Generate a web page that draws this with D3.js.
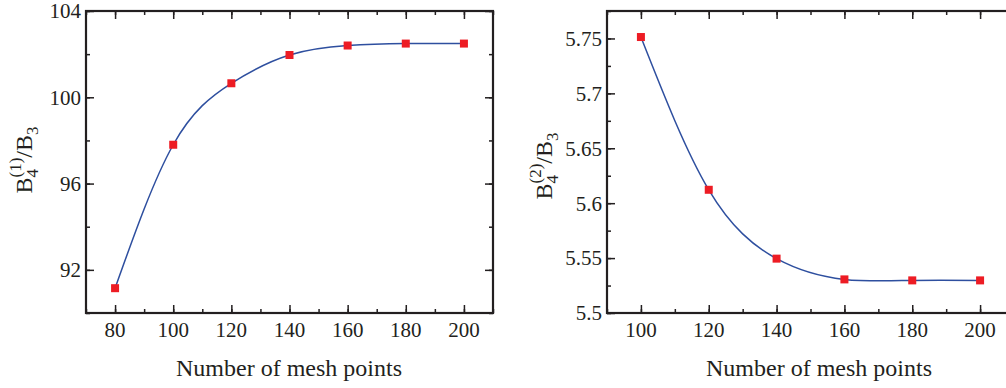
<!DOCTYPE html>
<html>
<head>
<meta charset="utf-8">
<script src="https://cdn.jsdelivr.net/npm/d3@7"></script>
<style>
  body { margin: 0; background: #fff; }
  svg { display: block; }
  text { font-family: "Liberation Serif", "Times New Roman", serif; fill: #231f20; }
</style>
</head>
<body>
<script>
// mesh sizes and ratios
var meshLeft = [80, 100, 120, 140, 160, 180, 200];
var ratioLeft = [91.15, 97.8, 100.65, 101.96, 102.4, 102.49, 102.49];
var meshRight = [100, 120, 140, 160, 180, 200];
var ratioRight = [5.7513, 5.6122, 5.5495, 5.5306, 5.5297, 5.5297];

var xTicksLeft = [80, 100, 120, 140, 160, 180, 200];
var xTicksRight = [100, 120, 140, 160, 180, 200];
var yTicksLeft = [92, 96, 100, 104];
var yTicksRight = [5.5, 5.55, 5.6, 5.65, 5.7, 5.75];

var svg = d3.select("body").append("svg")
			.attr("width", 1006)
			.attr("height", 388);

function drawPanel(p) {
	var x = d3.scaleLinear().domain(p.xDomain).range([p.left, p.right]);
	var y = d3.scaleLinear().domain(p.yDomain).range([p.bottom, p.top]);
	var g = svg.append("g");

	var xMinor = d3.range(p.xDomain[0], p.xDomain[1] + 0.001, 10);
	var yMinor = d3.range(p.yDomain[0], p.yDomain[1] + 1e-9, p.yMinorStep);

	// bottom axis, ticks pointing in
	g.append("g")
		.attr("transform", "translate(0," + p.bottom + ")")
		.call(d3.axisTop(x).tickValues(xMinor).tickSize(4).tickFormat(""));
	g.append("g")
		.attr("transform", "translate(0," + p.bottom + ")")
		.call(d3.axisTop(x).tickValues(p.xTicks).tickSize(8).tickFormat(""));
	g.append("g").selectAll("text")
		.data(p.xTicks)
		.enter().append("text")
			.attr("x", function(d){ return x(d); })
			.attr("y", p.bottom + 24)
			.attr("text-anchor", "middle")
			.attr("font-size", 21)
			.text(function(d){ return d; });

	// top axis mirror
	g.append("g")
		.attr("transform", "translate(0," + p.top + ")")
		.call(d3.axisBottom(x).tickValues(xMinor).tickSize(4).tickFormat(""));
	g.append("g")
		.attr("transform", "translate(0," + p.top + ")")
		.call(d3.axisBottom(x).tickValues(p.xTicks).tickSize(8).tickFormat(""));

	// left axis
	g.append("g")
		.attr("transform", "translate(" + p.left + ",0)")
		.call(d3.axisRight(y).tickValues(yMinor).tickSize(4).tickFormat(""));
	g.append("g")
		.attr("transform", "translate(" + p.left + ",0)")
		.call(d3.axisRight(y).tickValues(p.yTicks).tickSize(8).tickFormat(""));
	g.append("g").selectAll("text")
		.data(p.yTicks)
		.enter().append("text")
			.attr("x", p.left - 5)
			.attr("y", function(d){ return y(d); })
			.attr("dy", "0.35em")
			.attr("text-anchor", "end")
			.attr("font-size", 21)
			.text(function(d){ return +d.toFixed(2); });

	// right axis mirror
	g.append("g")
		.attr("transform", "translate(" + p.right + ",0)")
		.call(d3.axisLeft(y).tickValues(yMinor).tickSize(4).tickFormat(""));
	g.append("g")
		.attr("transform", "translate(" + p.right + ",0)")
		.call(d3.axisLeft(y).tickValues(p.yTicks).tickSize(8).tickFormat(""));

	g.selectAll(".domain").remove();
	g.selectAll(".tick line").attr("stroke", "#231f20").attr("stroke-width", 1.5);

	g.append("rect")
		.attr("x", p.left)
		.attr("y", p.top)
		.attr("width", p.right - p.left)
		.attr("height", p.bottom - p.top)
		.attr("fill", "none")
		.attr("stroke", "#231f20")
		.attr("stroke-width", 2.2);

	var pts = p.xs.map(function(d, i){ return [d, p.ys[i]]; });
	var line = d3.line()
		.x(function(d){ return x(d[0]); })
		.y(function(d){ return y(d[1]); })
		.curve(d3.curveNatural);
	g.append("path")
		.datum(pts)
		.attr("d", line)
		.attr("fill", "none")
		.attr("stroke", "#2e4f9f")
		.attr("stroke-width", 1.5);

	g.selectAll("rect.pt")
		.data(pts)
		.enter().append("rect")
			.attr("class", "pt")
			.attr("x", function(d){ return x(d[0]) - 4; })
			.attr("y", function(d){ return y(d[1]) - 4; })
			.attr("width", 8)
			.attr("height", 8)
			.attr("fill", "#ed1c24");

	g.append("text")
		.attr("x", p.titleX)
		.attr("y", 376)
		.attr("text-anchor", "middle")
		.attr("font-size", 24)
		.text("Number of mesh points");

	var lab = g.append("text")
		.attr("transform", "translate(" + p.labelX + "," + p.labelY + ") rotate(-90)")
		.attr("text-anchor", "middle")
		.attr("font-size", 24);
	lab.append("tspan").text("B");
	lab.append("tspan").attr("font-size", 17).attr("dy", 6).text("4");
	lab.append("tspan").attr("font-size", 17).attr("dx", -8.5).attr("dy", -17).text(p.sup);
	lab.append("tspan").attr("dy", 11).text("/B");
	lab.append("tspan").attr("font-size", 17).attr("dy", 6).text("3");
}

drawPanel({
	xs: meshLeft, ys: ratioLeft,
	xDomain: [70, 210], yDomain: [90, 104], yMinorStep: 2,
	xTicks: xTicksLeft, yTicks: yTicksLeft,
	left: 86, right: 493, top: 11, bottom: 313,
	titleX: 289, labelX: 32, labelY: 160, sup: "(1)"
});

drawPanel({
	xs: meshRight, ys: ratioRight,
	xDomain: [90, 210], yDomain: [5.5, 5.775], yMinorStep: 0.025,
	xTicks: xTicksRight, yTicks: yTicksRight,
	left: 607, right: 1014, top: 11, bottom: 313,
	titleX: 819, labelX: 552, labelY: 166, sup: "(2)"
});
</script>
</body>
</html>
